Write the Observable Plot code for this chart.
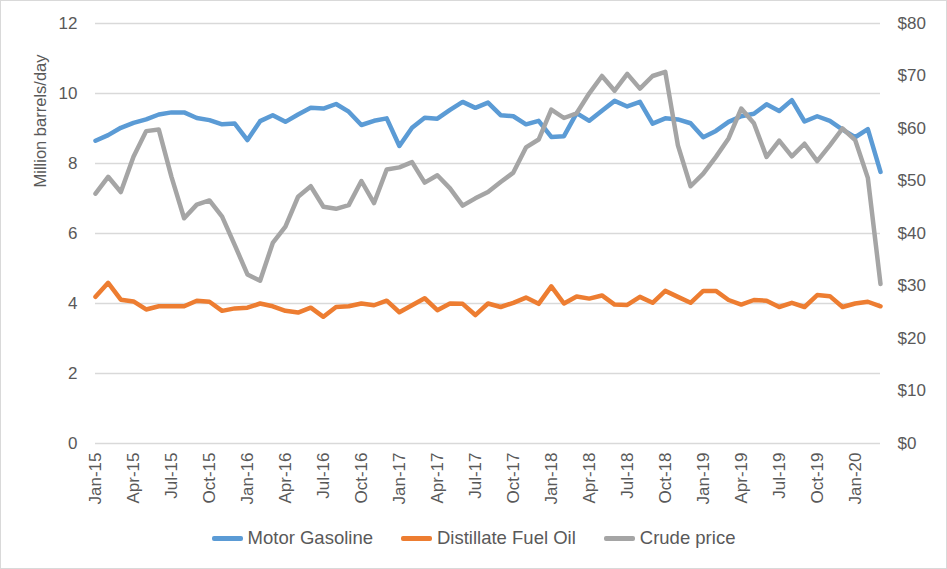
<!DOCTYPE html>
<html>
<head>
<meta charset="utf-8">
<script src="https://cdn.jsdelivr.net/npm/d3@7"></script>
<script src="https://cdn.jsdelivr.net/npm/@observablehq/plot@0.6"></script>
<style>
  html, body { margin: 0; padding: 0; background: #fff; }
  #wrap { position: relative; width: 947px; height: 569px; overflow: hidden; font-family: "Liberation Sans", Arial, sans-serif; }
  #frame { position: absolute; left: 0; top: 0; width: 947px; height: 569px; box-sizing: border-box; border: 1px solid #d9d9d9; pointer-events: none; }
  #legend { position: absolute; left: 0; top: 521px; width: 947px; height: 34px; display: flex; justify-content: center; align-items: center; gap: 28px; font-size: 18.5px; color: #595959; }
  .item { display: flex; align-items: center; gap: 5px; }
  .sw { width: 31px; height: 5px; border-radius: 2px; }
</style>
</head>
<body>
<div id="wrap">
  <div id="chart"></div>
  <div id="legend"></div>
  <div id="frame"></div>
</div>
<script>
// Categories: monthly, Jan-15 .. Mar-20
const months = d3.utcMonth.range(new Date(Date.UTC(2015, 0, 1)), new Date(Date.UTC(2020, 3, 1))).map(d3.utcFormat("%b-%y"));
const tickLabels = ["Jan-15","Apr-15","Jul-15","Oct-15","Jan-16","Apr-16","Jul-16","Oct-16","Jan-17","Apr-17","Jul-17","Oct-17","Jan-18","Apr-18","Jul-18","Oct-18","Jan-19","Apr-19","Jul-19","Oct-19","Jan-20"];

// Million barrels/day
const motorGasoline = [8.65,8.81,9.02,9.16,9.26,9.40,9.46,9.46,9.30,9.24,9.12,9.14,
  8.67,9.21,9.38,9.19,9.40,9.59,9.57,9.70,9.48,9.10,9.22,9.29,
  8.50,9.02,9.31,9.28,9.53,9.76,9.59,9.74,9.38,9.35,9.12,9.22,
  8.76,8.78,9.44,9.22,9.51,9.79,9.63,9.76,9.14,9.29,9.26,9.15,
  8.75,8.93,9.19,9.35,9.42,9.69,9.50,9.81,9.20,9.35,9.22,8.97,
  8.75,8.98,7.76];
const distillateFuelOil = [4.19,4.59,4.11,4.06,3.83,3.92,3.92,3.92,4.08,4.05,3.79,3.86,
  3.88,4.00,3.92,3.79,3.74,3.88,3.62,3.90,3.92,4.00,3.95,4.08,
  3.75,3.95,4.15,3.81,4.00,3.99,3.67,4.00,3.90,4.02,4.17,3.99,
  4.49,4.00,4.20,4.14,4.23,3.97,3.96,4.19,4.02,4.36,4.19,4.02,
  4.36,4.36,4.10,3.97,4.10,4.08,3.90,4.02,3.90,4.24,4.21,3.90,
  4.00,4.05,3.92];
// $ per barrel (right axis)
const crudePrice = [47.6,50.8,47.9,54.6,59.5,59.8,50.8,42.9,45.5,46.3,43.2,37.8,
  32.2,31.0,38.2,41.3,47.0,49.0,45.1,44.7,45.4,50.0,45.8,52.2,
  52.6,53.6,49.7,51.1,48.6,45.3,46.7,47.9,49.8,51.6,56.4,57.9,
  63.6,62.0,62.9,66.7,70.0,67.2,70.4,67.6,70.0,70.8,56.8,49.0,
  51.4,54.6,58.1,63.8,61.0,54.6,57.7,54.7,57.1,53.8,56.8,60.0,
  57.8,50.6,30.4];

const seriesNames = ["Motor Gasoline", "Distillate Fuel Oil", "Crude price"];
const colors = ["#5B9BD5", "#ED7D31", "#A5A5A5"];
const leftTicks = [0, 2, 4, 6, 8, 10, 12];
const rightTicks = [0, 10, 20, 30, 40, 50, 60, 70, 80];
const ratio = 80 / 12;

const rows = months.map((m, i) => ({
  month: m,
  gas: motorGasoline[i],
  dist: distillateFuelOil[i],
  crude: crudePrice[i] / ratio
}));

const chart = Plot.plot({
  width: 947,
  height: 520,
  marginTop: 23,
  marginBottom: 77,
  marginLeft: 95,
  marginRight: 67,
  style: { fontFamily: "Liberation Sans, Arial, sans-serif", fontSize: "17px", color: "#595959", background: "transparent", overflow: "visible" },
  x: { type: "point", domain: months, padding: 0 },
  y: { domain: [0, 12] },
  marks: [
    Plot.gridY(leftTicks, { stroke: "#d9d9d9", strokeOpacity: 1, strokeWidth: 1.5 }),
    Plot.axisY(leftTicks, { tickSize: 0, tickPadding: 18, label: null, fill: "#595959" }),
    Plot.axisY(rightTicks.map(d => d / ratio), { anchor: "right", tickSize: 0, tickPadding: 17, label: null, tickFormat: d => "$" + Math.round(d * ratio), fill: "#595959" }),
    Plot.axisX(tickLabels, { tickSize: 0, tickPadding: 9, tickRotate: -90, label: null, fill: "#595959" }),
    Plot.lineY(rows, { x: "month", y: "gas", stroke: colors[0], strokeWidth: 4.5, strokeLinejoin: "round", strokeLinecap: "round" }),
    Plot.lineY(rows, { x: "month", y: "dist", stroke: colors[1], strokeWidth: 4.5, strokeLinejoin: "round", strokeLinecap: "round" }),
    Plot.lineY(rows, { x: "month", y: "crude", stroke: colors[2], strokeWidth: 4.5, strokeLinejoin: "round", strokeLinecap: "round" })
  ]
});

d3.select(chart).append("text")
  .attr("transform", "translate(42,121) rotate(-90)")
  .attr("text-anchor", "middle")
  .attr("dominant-baseline", "middle")
  .attr("fill", "#595959")
  .style("font-size", "16.5px")
  .text("Million barrels/day");

document.getElementById("chart").appendChild(chart);

const legend = d3.select("#legend");
seriesNames.forEach((name, i) => {
  const it = legend.append("div").attr("class", "item");
  it.append("div").attr("class", "sw").style("background", colors[i]);
  it.append("span").text(name);
});
</script>
</body>
</html>
